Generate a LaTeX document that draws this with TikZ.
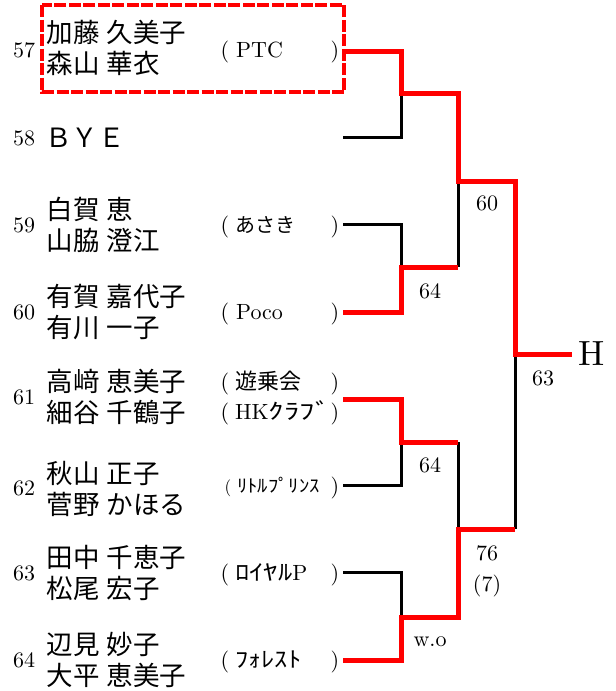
\documentclass[tikz,border=0pt]{standalone}
\usepackage{fontspec}
\usepackage{graphicx}
\setmainfont{lmroman10-regular.otf}
\newfontfamily\jp{Noto Sans CJK JP}
\newcommand{\jsp}{\hspace{7pt}}
\newcommand{\hw}[2]{\scalebox{#1}[1]{#2}}
\begin{document}
\begin{tikzpicture}[x=1pt,y=-1pt,
  rl/.style={draw=red, line width=5pt},
  bl/.style={draw=black, line width=3pt},
  nm/.style={font=\jp\fontsize{26.5}{31}\selectfont, align=left, anchor=west, inner sep=0pt},
  num/.style={font=\fontsize{22}{22}\selectfont, inner sep=0pt},
  pr/.style={font=\fontsize{22}{22}\selectfont, inner sep=0pt, anchor=base},
  cl/.style={font=\fontsize{22}{22}\selectfont, inner sep=0pt, anchor=base west},
  sc/.style={font=\fontsize{22}{22}\selectfont, inner sep=0pt},
  seedbox/.style={draw=red, line width=4.5pt, dash pattern=on 12pt off 2.5pt}]
\useasboundingbox (0,0) rectangle (616,691);

% seed box
\draw[seedbox] (42,5) rectangle (344,92);

% entry numbers
\node[num] (k57) at (24,50) {57};
\node[num] (k58) at (24,138) {58};
\node[num] (k59) at (24,225) {59};
\node[num] (k60) at (24,312) {60};
\node[num] (k61) at (24,397) {61};
\node[num] (k62) at (24,488) {62};
\node[num] (k63) at (24,573) {63};
\node[num] (k64) at (24,660) {64};

% names
\node[nm] (n57) at (46.5,48) {加藤\jsp 久美子\\森山\jsp 華衣};
\node[nm] (n58) at (45,138) {ＢＹＥ};
\node[nm] (n59) at (46.5,225) {白賀\jsp 恵\\山脇\jsp 澄江};
\node[nm] (n60) at (46.5,312) {有賀\jsp 嘉代子\\有川\jsp 一子};
\node[nm] (n61) at (46.5,397) {高﨑\jsp 恵美子\\細谷\jsp 千鶴子};
\node[nm] (n62) at (46.5,489) {秋山\jsp 正子\\菅野\jsp かほる};
\node[nm] (n63) at (46.5,573) {田中\jsp 千恵子\\松尾\jsp 宏子};
\node[nm] (n64) at (46.5,660) {辺見\jsp 妙子\\大平\jsp 恵美子};

% clubs
\node[pr] (o57) at (225,57) {(};
\node[cl] (t57) at (236,57) {PTC};
\node[pr] (p57) at (335,57) {)};

\node[pr] (o59) at (225,232) {(};
\node[cl, font=\jp\fontsize{20}{20}\selectfont] (t59) at (235,232.6) {あさき};
\node[pr] (p59) at (335,232) {)};

\node[pr] (o60) at (225,319) {(};
\node[cl] (t60) at (236,319) {Poco};
\node[pr] (p60) at (335,319) {)};

\node[pr] (o61a) at (225,389) {(};
\node[cl, font=\jp\fontsize{22}{22}\selectfont] (t61a) at (235,389.5) {遊乗会};
\node[pr] (p61a) at (335,389) {)};

\node[pr] (o61b) at (225,419) {(};
\node[cl] (t61b) at (235,419) {HK{\jp\hw{1.4}{ｸﾗﾌﾞ}}};
\node[pr] (p61b) at (335,419) {)};

\node[pr, font=\fontsize{17}{17}\selectfont] (o62) at (228,492) {(};
\node[cl, font=\jp\fontsize{18}{18}\selectfont] (t62) at (237,492.8) {\hw{1.15}{ﾘﾄﾙﾌﾟﾘﾝｽ}};
\node[pr] (p62) at (335,493) {)};

\node[pr] (o63) at (225,580) {(};
\node[cl] (t63) at (235,580) {{\jp\hw{1.3}{ﾛｲﾔﾙ}}P};
\node[pr] (p63) at (335,580) {)};

\node[pr] (o64) at (225,667) {(};
\node[cl, font=\jp\fontsize{22}{22}\selectfont] (t64) at (235,667.4) {\hw{1.2}{ﾌｫﾚｽﾄ}};
\node[pr] (p64) at (335,667) {)};

% winner
\node[anchor=west, inner sep=6pt, font=\fontsize{35}{35}\selectfont] (H) at (572,354) {H};

% scores
\node[sc] (s60) at (487,203) {60};
\node[sc] (s64a) at (430,291) {64};
\node[sc] (s63) at (543,378) {63};
\node[sc] (s64b) at (430,465) {64};
\node[sc] (s76) at (487,553) {76};
\node[sc] (s7) at (487,586) {(7)};
\node[sc] (swo) at (430,642) {w.o};

% line coordinates
\coordinate (e57) at (343,51);
\coordinate (e58) at (343,137);
\coordinate (e59) at (343,224);
\coordinate (e60) at (343,312);
\coordinate (e61) at (343,399);
\coordinate (e62) at (343,485);
\coordinate (e63) at (343,572);
\coordinate (e64) at (343,660);
\coordinate (a1) at (401,93);
\coordinate (a2) at (401,267);
\coordinate (a3) at (401,442);
\coordinate (a4) at (401,617);
\coordinate (b1) at (458,181);
\coordinate (b2) at (458,529);
\coordinate (c1) at (515,354);

% black (losing) lines
\draw[bl] (e58) -| (a1);
\draw[bl] (e59) -| (a2);
\draw[bl] (a2 -| b1) -- (b1);
\draw[bl] (e62) -| (a3);
\draw[bl] (a3 -| b2) -- (b2);
\draw[bl] (e63) -| (a4);
\draw[bl] (b2 -| c1) -- (c1);

% red (winning) lines
\draw[rl] (e57) -| (a1) -| (b1) -| (c1) -- (H.west);
\draw[rl] (e60) -| (a2) -- (a2 -| b1);
\draw[rl] (e61) -| (a3) -- (a3 -| b2);
\draw[rl] (e64) -| (a4) -| (b2) -- (b2 -| c1);
\end{tikzpicture}
\end{document}
